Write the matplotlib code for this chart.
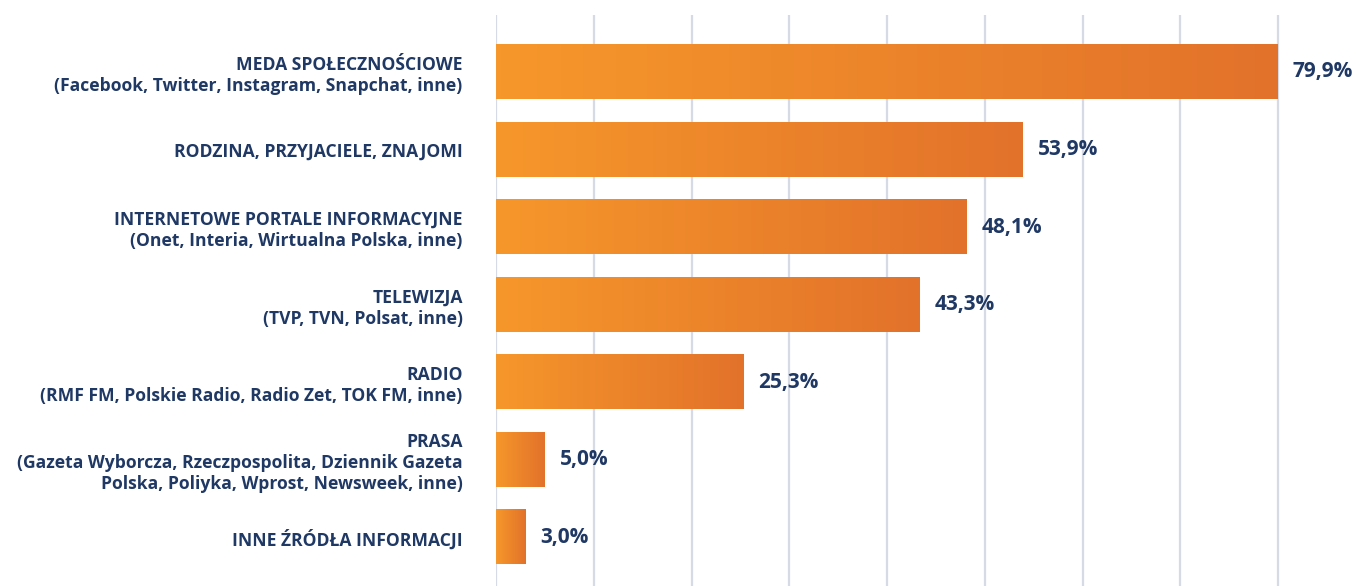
import numpy as np
import matplotlib
matplotlib.use('Agg')
import matplotlib.pyplot as plt
from matplotlib.colors import LinearSegmentedColormap

# Data
categories = ['MEDA SPOŁECZNOŚCIOWE\n(Facebook, Twitter, Instagram, Snapchat, inne)',
              'RODZINA, PRZYJACIELE, ZNAJOMI',
              'INTERNETOWE PORTALE INFORMACYJNE\n(Onet, Interia, Wirtualna Polska, inne)',
              'TELEWIZJA\n(TVP, TVN, Polsat, inne)',
              'RADIO\n(RMF FM, Polskie Radio, Radio Zet, TOK FM, inne)',
              'PRASA\n(Gazeta Wyborcza, Rzeczpospolita, Dziennik Gazeta\nPolska, Poliyka, Wprost, Newsweek, inne)',
              'INNE ŹRÓDŁA INFORMACJI']
values = [79.9, 53.9, 48.1, 43.3, 25.3, 5.0, 3.0]
value_labels = ['79,9%', '53,9%', '48,1%', '43,3%', '25,3%', '5,0%', '3,0%']

# Style
navy = '#1F3864'
grid_col = '#D6DAE4'
orange = LinearSegmentedColormap.from_list('orange', ['#F6972B', '#E2722A'])
plt.rcParams['font.family'] = ['Open Sans', 'DejaVu Sans']
plt.rcParams['font.weight'] = 'bold'

fig = plt.figure(figsize=(13.69, 5.86), dpi=100)
ax = fig.add_axes([496 / 1369, 0.0, 1 - 496 / 1369, 1 - 15 / 586])

ypos = np.arange(len(values))
bar_h = 0.70
gradient = np.linspace(0, 1, 256)[None, :]

# Bars with a left-to-right gradient
for y, v in zip(ypos, values):
    ax.imshow(gradient, cmap=orange, aspect='auto', interpolation='bicubic',
              extent=(0, v, y + bar_h / 2, y - bar_h / 2), zorder=2)

for y, v, lab in zip(ypos, values, value_labels):
    ax.annotate(lab, xy=(v, y), xytext=(11, 0), textcoords='offset points',
                ha='left', va='center', fontsize=15, fontweight='bold',
                color=navy, annotation_clip=False)

ax.set_xlim(0, 89.3)
ax.set_ylim(6.63, -0.735)
ax.set_xticks(np.arange(0, 81, 10))
ax.grid(axis='x', color=grid_col, linewidth=1.6, zorder=0)
ax.set_axisbelow(True)
ax.tick_params(axis='x', length=0, labelbottom=False)

ax.set_yticks(ypos)
ax.set_yticklabels(categories, fontsize=12.6, fontweight='bold', color=navy,
                   ha='right', multialignment='right', linespacing=1.22)
ax.tick_params(axis='y', length=0, pad=24)

for s in ax.spines.values():
    s.set_visible(False)

fig.savefig('out.png', dpi=100)
